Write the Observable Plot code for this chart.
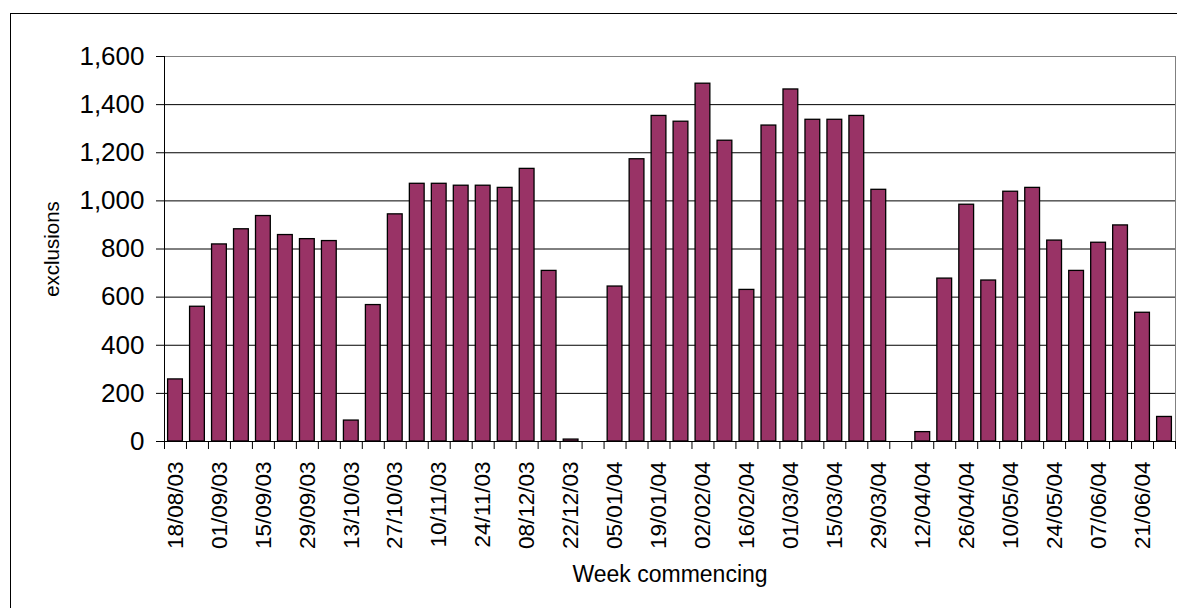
<!DOCTYPE html>
<html>
<head>
<meta charset="utf-8">
<script src="https://cdn.jsdelivr.net/npm/d3@7"></script>
<script src="https://cdn.jsdelivr.net/npm/@observablehq/plot@0.6"></script>
<style>
  body { margin: 0; background: #fff; }
  #wrap { position: relative; width: 1177px; height: 608px; overflow: hidden; background: #fff; }
  #wrap svg { position: absolute; left: 0; top: 0; }
  #border { position: absolute; left: 10px; top: 13px; width: 1400px; height: 800px;
            border-left: 1px solid #000; border-top: 1px solid #000; pointer-events: none; z-index: 2; }
</style>
</head>
<body>
<div id="wrap"><div id="border"></div></div>
<script>
// Week commencing (one bar per week)
const weeks = [
  "18/08/03","25/08/03","01/09/03","08/09/03","15/09/03","22/09/03","29/09/03","06/10/03",
  "13/10/03","20/10/03","27/10/03","03/11/03","10/11/03","17/11/03","24/11/03","01/12/03",
  "08/12/03","15/12/03","22/12/03","29/12/03","05/01/04","12/01/04","19/01/04","26/01/04",
  "02/02/04","09/02/04","16/02/04","23/02/04","01/03/04","08/03/04","15/03/04","22/03/04",
  "29/03/04","05/04/04","12/04/04","19/04/04","26/04/04","03/05/04","10/05/04","17/05/04",
  "24/05/04","31/05/04","07/06/04","14/06/04","21/06/04","28/06/04"
];
// Exclusions per week
const exclusions = [
  258, 560, 819, 882, 937, 858, 841, 833,
  87, 567, 944, 1071, 1071, 1063, 1063, 1054,
  1133, 709, 8, 0, 644, 1173, 1353, 1329,
  1487, 1250, 630, 1313, 1463, 1337, 1337, 1353,
  1046, 0, 39, 677, 984, 669, 1038, 1054,
  835, 709, 826, 898, 535, 102
];
// Labelled ticks on the x axis
const labelWeeks = [
  "18/08/03","01/09/03","15/09/03","29/09/03","13/10/03","27/10/03","10/11/03","24/11/03",
  "08/12/03","22/12/03","05/01/04","19/01/04","02/02/04","16/02/04","01/03/04","15/03/04",
  "29/03/04","12/04/04","26/04/04","10/05/04","24/05/04","07/06/04","21/06/04"
];
// y ticks
const yTicks = [0, 200, 400, 600, 800, 1000, 1200, 1400, 1600];

const data = weeks.map((w, i) => ({week: w, value: exclusions[i]}));

const W = 1177, H = 608, mL = 164, mR = 2, mT = 56, mB = 167;
const step = (W - mL - mR) / weeks.length;

const chart = Plot.plot({
  width: W, height: H,
  marginLeft: mL, marginRight: mR, marginTop: mT, marginBottom: mB,
  style: {fontFamily: "Arial, 'Liberation Sans', sans-serif", background: "transparent", color: "#000", overflow: "visible"},
  x: {domain: weeks, padding: 0, axis: null, label: null},
  y: {domain: [0, 1600], axis: null, label: null},
  marks: [
    Plot.ruleY(yTicks.filter(d => d > 0 && d < 1600), {stroke: "#000", strokeWidth: 1}),
    Plot.ruleY([1600], {stroke: "#808080", strokeWidth: 1}),
    Plot.ruleX([weeks[weeks.length - 1]], {y1: 0, y2: 1600, dx: step / 2, stroke: "#808080"}),
    Plot.barY(data, {x: "week", y: "value", fill: "#993366", stroke: "#000", strokeWidth: 1.3, insetLeft: 3.6, insetRight: 3.6}),
    Plot.ruleY([0], {stroke: "#000"}),
    Plot.ruleX([weeks[0]], {y1: 0, y2: 1600, dx: -step / 2, stroke: "#000"}),
    Plot.axisY({ticks: yTicks, tickSize: 8, tickPadding: 12, tickFormat: d3.format(","), fontSize: 26, label: null, stroke: "#000"}),
    Plot.axisX({ticks: weeks, tickSize: 8, tickFormat: () => "", dx: -step / 2, label: null, stroke: "#000"}),
    Plot.axisX({ticks: [weeks[weeks.length - 1]], tickSize: 8, tickFormat: () => "", dx: step / 2, label: null, stroke: "#000"}),
    Plot.axisX({ticks: labelWeeks, tickSize: 0, tickPadding: 20, tickRotate: -90, fontSize: 22.5, label: null}),
    Plot.text(["exclusions"], {text: d => d, frameAnchor: "left", rotate: -90, textAnchor: "middle", lineAnchor: "middle", dx: -112, fontSize: 20.5, fill: "#000"}),
    Plot.text(["Week commencing"], {text: d => d, frameAnchor: "bottom", textAnchor: "middle", lineAnchor: "middle", dy: 133, fontSize: 23, fill: "#000"})
  ]
});
document.getElementById("wrap").appendChild(chart);
</script>
</body>
</html>
